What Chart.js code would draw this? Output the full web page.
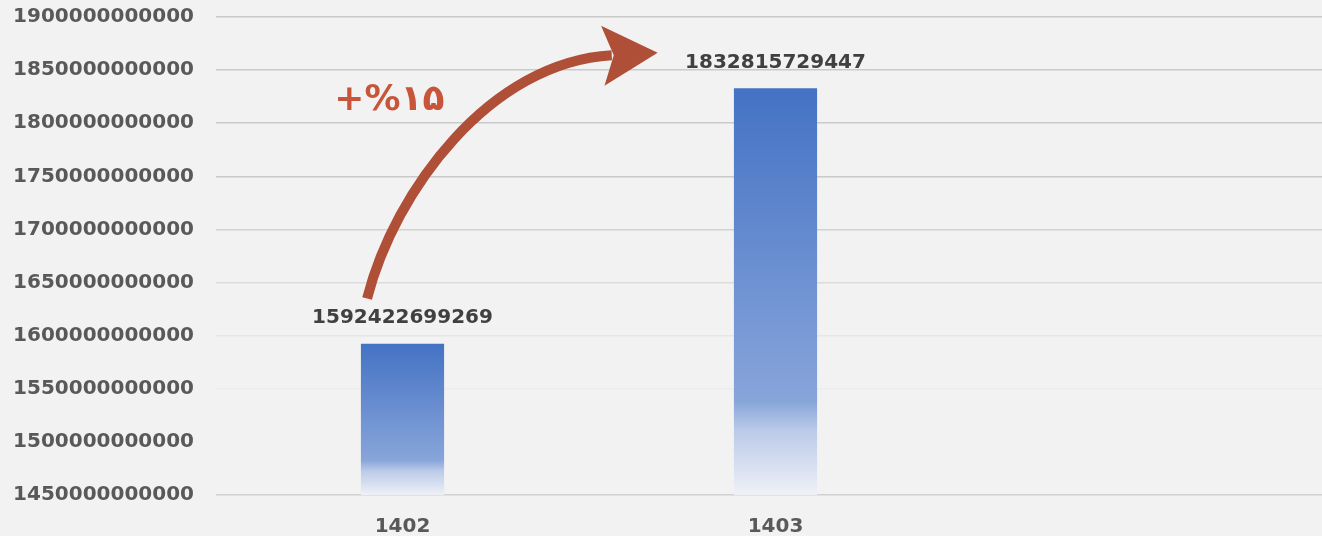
<!DOCTYPE html>
<html>
<head>
<meta charset="utf-8">
<script src="https://cdn.jsdelivr.net/npm/chart.js@4/dist/chart.umd.min.js"></script>
<style>
  html, body { margin: 0; padding: 0; background: #F2F2F2; overflow: hidden; }
  /* plot runs a little past the right edge of the window, as in the picture */
  #wrap { width: 1335px; height: 536px; }
</style>
</head>
<body>
<div id="wrap"><canvas id="growthChart"></canvas></div>
<script>
// values
const years = ["1402", "1403", ""];
const totals = [1592422699269, 1832815729447, null];
const yMin = 1450000000000;
const yMax = 1900000000000;
const yStep = 50000000000;
const growthLabel = "+%۱۵";

const chartElement = document.getElementById("growthChart");

// gradient from solid blue at the top of a bar to almost white at its foot
function barGradient(context) {
  const chart = context.chart;
  if (!chart.chartArea) return "#4472C4";
  const value = context.raw;
  if (value == null) return "#4472C4";
  const top = chart.scales.y.getPixelForValue(value);
  const bottom = chart.chartArea.bottom;
  const g = chart.ctx.createLinearGradient(0, top, 0, bottom);
  g.addColorStop(0, "#4472C4");
  g.addColorStop(0.77, "#88A5DA");
  g.addColorStop(0.84, "#BACAE8");
  g.addColorStop(1, "#EFF1F6");
  return g;
}

// value labels above bars
const valueLabels = {
  id: "valueLabels",
  afterDatasetsDraw(chart) {
    const ctx = chart.ctx;
    const meta = chart.getDatasetMeta(0);
    ctx.save();
    ctx.font = "bold 20px 'DejaVu Sans'";
    ctx.fillStyle = "#404040";
    ctx.textAlign = "center";
    ctx.textBaseline = "bottom";
    meta.data.forEach((bar, i) => {
      if (totals[i] == null) return;
      ctx.fillText(String(totals[i]), bar.x, bar.y - 16);
    });
    ctx.restore();
  }
};

// curved growth arrow between the two bars, placed from the scales
const growthArrow = {
  id: "growthArrow",
  afterDatasetsDraw(chart) {
    const ctx = chart.ctx;
    const x = chart.scales.x;
    const y = chart.scales.y;
    const x0 = x.getPixelForValue(0);
    const step = x.getPixelForValue(1) - x0;
    const px = (f) => x0 + step * f;

    const sx = px(-0.095), sy = y.getPixelForValue(1635000000000);
    const c1x = px(-0.02), c1y = y.getPixelForValue(1737000000000);
    const c2x = px(0.235), c2y = y.getPixelForValue(1857500000000);
    const ex = px(0.561), ey = y.getPixelForValue(1864000000000);

    ctx.save();
    ctx.strokeStyle = "#B04F37";
    ctx.fillStyle = "#B04F37";
    ctx.lineWidth = 10;
    ctx.beginPath();
    ctx.moveTo(sx, sy);
    ctx.bezierCurveTo(c1x, c1y, c2x, c2y, ex, ey);
    ctx.stroke();

    // arrow head
    const ang = Math.atan2(ey - c2y, ex - c2x);
    const dx = Math.cos(ang), dy = Math.sin(ang);
    const nx = -dy, ny = dx;
    ctx.beginPath();
    ctx.moveTo(ex + dx * 46, ey + dy * 46);
    ctx.lineTo(ex - dx * 9 + nx * 30, ey - dy * 9 + ny * 30);
    ctx.lineTo(ex + dx * 2, ey + dy * 2);
    ctx.lineTo(ex - dx * 9 - nx * 30, ey - dy * 9 - ny * 30);
    ctx.closePath();
    ctx.fill();

    ctx.font = "bold 36px 'DejaVu Sans'";
    ctx.fillStyle = "#C8553A";
    ctx.textAlign = "center";
    ctx.textBaseline = "middle";
    ctx.direction = "ltr";
    ctx.fillText(growthLabel, px(-0.035), y.getPixelForValue(1821000000000));
    ctx.restore();
  }
};

// grid lines fade out towards the bottom of the plot
function gridColour(context) {
  const v = context.tick ? context.tick.value : 0;
  if (v <= yMin) return "#D0D0D0";
  if (v <= 1500000000000) return "rgba(0,0,0,0)";
  if (v <= 1550000000000) return "#ECECEC";
  if (v <= 1600000000000) return "#E6E6E6";
  if (v <= 1650000000000) return "#DCDCDC";
  if (v <= 1700000000000) return "#D2D2D2";
  return "#CACACA";
}

Chart.defaults.font.family = "'DejaVu Sans'";

new Chart(chartElement, {
  type: "bar",
  data: {
    labels: years,
    datasets: [{
      data: totals,
      backgroundColor: barGradient,
      barPercentage: 0.223,
      categoryPercentage: 1.0
    }]
  },
  options: {
    responsive: true,
    maintainAspectRatio: false,
    animation: false,
    layout: { padding: { top: 17, left: 10, right: 0, bottom: 0 } },
    plugins: { legend: { display: false }, tooltip: { enabled: false } },
    scales: {
      x: {
        grid: { display: false, drawTicks: false },
        border: { display: false },
        ticks: { color: "#595959", font: { size: 20, weight: "bold" }, padding: 20 },
        afterFit: (scale) => { scale.height = 41; }
      },
      y: {
        min: yMin,
        max: yMax,
        border: { display: false },
        grid: { color: gridColour, lineWidth: 1.5, drawTicks: false },
        ticks: {
          stepSize: yStep,
          color: "#595959",
          padding: 22,
          font: { size: 20, weight: "bold" },
          callback: (v) => String(v)
        },
        afterFit: (scale) => {
          scale.width = 206;
          scale.paddingTop = 0;
          scale.paddingBottom = 0;
        }
      }
    }
  },
  plugins: [valueLabels, growthArrow]
});
</script>
</body>
</html>
